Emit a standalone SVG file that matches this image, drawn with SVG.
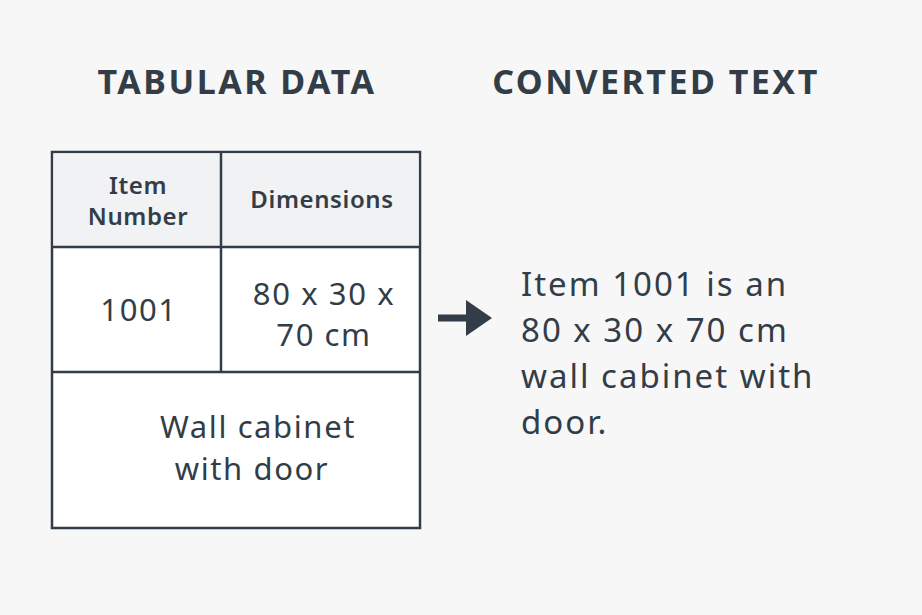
<svg xmlns="http://www.w3.org/2000/svg" width="922" height="615" viewBox="0 0 922 615">
<style>
.t{font-family:"Noto Sans","Liberation Sans",sans-serif;fill:#333d47}
.h{font-weight:bold;font-size:34px;letter-spacing:2.5px}
.c{stroke:#333d47;stroke-width:2.5;fill:#fff}
.b{font-size:31px;letter-spacing:1.6px}
.s{font-size:24px;font-weight:600;letter-spacing:0.6px}
</style>
<rect width="922" height="615" fill="#f7f7f7"/>
<text class="t h" x="237" y="94" text-anchor="middle">TABULAR DATA</text>
<text class="t h" x="656" y="94" text-anchor="middle">CONVERTED TEXT</text>
<g id="table">
<rect class="c" x="52" y="152" width="368" height="376"/>
<rect x="53.5" y="153.5" width="365" height="93" fill="#f1f2f3"/>
<line class="c" x1="52" y1="247" x2="420" y2="247"/>
<line class="c" x1="52" y1="372" x2="420" y2="372"/>
<line class="c" x1="221" y1="152" x2="221" y2="372"/>
<text class="t s" text-anchor="middle"><tspan x="138" y="194">Item</tspan><tspan x="138" y="225">Number</tspan></text>
<text class="t s" x="322" y="208" text-anchor="middle">Dimensions</text>
<text class="t b" x="139" y="321" text-anchor="middle">1001</text>
<text class="t b" text-anchor="middle"><tspan x="324" y="305">80 x 30 x</tspan><tspan x="324" y="346">70 cm</tspan></text>
<text class="t b" text-anchor="middle"><tspan x="258" y="438">Wall cabinet</tspan><tspan x="252" y="480">with door</tspan></text>
</g>
<g id="connectors">
<line x1="438" y1="318" x2="472" y2="318" stroke="#333d47" stroke-width="7"/>
<polygon points="466,300 492,318 466,336" fill="#333d47"/>
</g>
<g id="output">
<text class="t" font-size="33" letter-spacing="2"><tspan x="521" y="296">Item 1001 is an</tspan><tspan x="521" y="342">80 x 30 x 70 cm</tspan><tspan x="521" y="388">wall cabinet with</tspan><tspan x="521" y="434">door.</tspan></text>
</g>
</svg>
